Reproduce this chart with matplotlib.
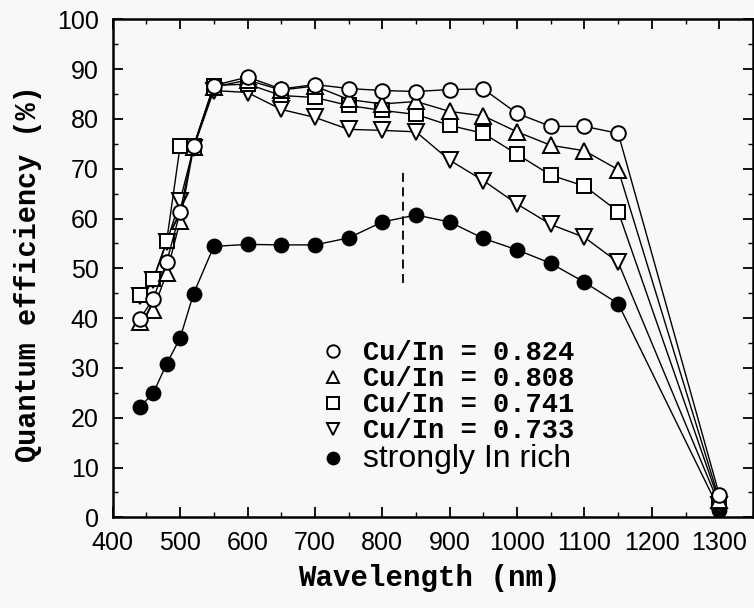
import matplotlib
matplotlib.use("Agg")
import matplotlib.pyplot as plt
from matplotlib.ticker import MultipleLocator

wavelength = [440, 460, 480, 500, 520, 550, 600, 650, 700, 750, 800, 850,
              900, 950, 1000, 1050, 1100, 1150, 1300]
qe_0824 = [39.8, 43.8, 51.2, 61.3, 74.5, 86.7, 88.4, 86.0, 86.9, 86.1, 85.7,
           85.5, 85.9, 86.0, 81.1, 78.5, 78.5, 77.1, 4.5]
qe_0808 = [39.2, 41.6, 49.0, 59.5, 74.3, 86.4, 87.8, 85.8, 86.6, 83.9, 83.0,
           83.5, 81.5, 80.6, 77.4, 74.7, 73.6, 69.8, 3.5]
qe_0741 = [44.6, 47.8, 55.4, 74.5, 74.5, 86.7, 87.0, 84.7, 84.3, 82.7, 81.7,
           80.9, 78.7, 77.1, 72.9, 68.7, 66.5, 61.4, 3.0]
qe_0733 = [44.4, 47.6, 55.2, 63.6, 74.2, 85.7, 85.3, 81.9, 80.3, 77.9, 77.7,
           77.4, 71.7, 67.6, 62.9, 58.8, 56.2, 51.2, 2.5]
qe_inrich = [22.1, 24.9, 30.8, 36.0, 44.9, 54.4, 54.8, 54.7, 54.7, 56.1, 59.3,
             60.7, 59.3, 56.0, 53.7, 51.0, 47.2, 42.9, 1.5]
labels = ["Cu/In = 0.824", "Cu/In = 0.808", "Cu/In = 0.741", "Cu/In = 0.733",
          "strongly In rich"]
dash_x = 830
dash_y = [47, 69.5]

bg = "#f8f8f8"
fig = plt.figure(figsize=(7.54, 6.08), dpi=100, facecolor=bg)
ax = fig.add_axes([112.7/754, 1-517.3/608, (753-112.7)/754, (517.3-19.3)/608])
ax.set_facecolor(bg)

common = dict(color="black", lw=1.0, markeredgewidth=1.4)
h4 = ax.plot(wavelength, qe_inrich, marker="o", ms=10, markerfacecolor="black", zorder=3, **common)[0]
h3 = ax.plot(wavelength, qe_0733, marker="v", ms=11, markerfacecolor="white", zorder=4, **common)[0]
h2 = ax.plot(wavelength, qe_0741, marker="s", ms=9.5, markerfacecolor="white", zorder=5, **common)[0]
h1 = ax.plot(wavelength, qe_0808, marker="^", ms=11, markerfacecolor="white", zorder=6, **common)[0]
h0 = ax.plot(wavelength, qe_0824, marker="o", ms=10.5, markerfacecolor="white", zorder=7, **common)[0]

ax.vlines(dash_x, dash_y[0], dash_y[1], colors="black", linestyles=(0, (5, 3)), lw=1.3)

ax.set_xlim(400, 1350)
ax.set_ylim(0, 100)
ax.xaxis.set_major_locator(MultipleLocator(100))
ax.xaxis.set_minor_locator(MultipleLocator(50))
ax.yaxis.set_major_locator(MultipleLocator(10))
ax.yaxis.set_minor_locator(MultipleLocator(5))
ax.tick_params(which="both", direction="in", top=True, right=True, color="black")
ax.tick_params(which="major", length=7, width=1.3, labelsize=18, pad=10)
ax.tick_params(which="minor", length=3.5, width=1.0)
for lab in ax.get_xticklabels() + ax.get_yticklabels():
    lab.set_fontfamily("Liberation Sans")
for s in ax.spines.values():
    s.set_linewidth(1.8)

fig.text(28/754, 1-274/608, "Quantum efficiency (%)", rotation=90, ha="center", va="center",
         fontsize=20.6, family="Liberation Mono", fontweight="bold")
fig.text(429/754, 1-578/608, "Wavelength (nm)", ha="center", va="center",
         fontsize=21, family="Liberation Mono", fontweight="bold")

leg = ax.legend([h0, h1, h2, h3, h4], labels, loc="upper left",
                bbox_to_anchor=((333-112.7)/640.3, 1-(340-19.3)/498),
                frameon=False, handlelength=0, handletextpad=1.1, labelspacing=0.0,
                markerscale=0.85, borderpad=0, borderaxespad=0,
                prop={"family": "Liberation Mono", "size": 19.5})
for t in leg.get_texts()[:4]:
    t.set_fontweight("bold")
leg.get_texts()[4].set_fontfamily("Liberation Sans")
leg.get_texts()[4].set_fontsize(23)

fig.savefig("out.png", dpi=100, facecolor=bg)
